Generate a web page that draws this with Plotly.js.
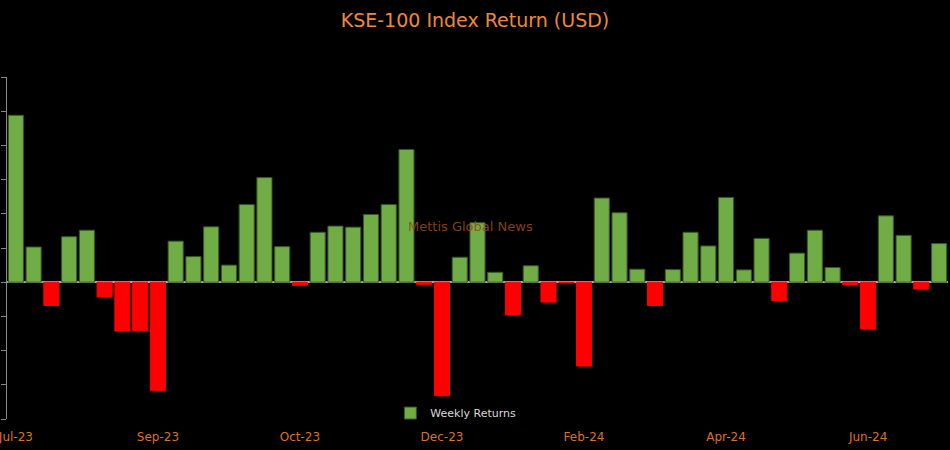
<!DOCTYPE html>
<html>
<head>
<meta charset="utf-8">
<script src="https://cdn.plot.ly/plotly-3.0.1.min.js"></script>
<style>html,body{margin:0;padding:0;background:#000;}#chart{width:950px;height:450px;}</style>
</head>
<body>
<div id="chart"></div>
<script>
// Week-ending dates (weekly, Jul-2023 to Jul-2024)
const weekDates = [
  "2023-07-07","2023-07-14","2023-07-21","2023-07-28","2023-08-04","2023-08-11","2023-08-18","2023-08-25",
  "2023-09-01","2023-09-08","2023-09-15","2023-09-22","2023-09-29","2023-10-06","2023-10-13","2023-10-20",
  "2023-10-27","2023-11-03","2023-11-10","2023-11-17","2023-11-24","2023-12-01","2023-12-08","2023-12-15",
  "2023-12-22","2023-12-29","2024-01-05","2024-01-12","2024-01-19","2024-01-26","2024-02-02","2024-02-09",
  "2024-02-16","2024-02-23","2024-03-01","2024-03-08","2024-03-15","2024-03-22","2024-03-29","2024-04-05",
  "2024-04-12","2024-04-19","2024-04-26","2024-05-03","2024-05-10","2024-05-17","2024-05-24","2024-05-31",
  "2024-06-07","2024-06-14","2024-06-21","2024-06-28","2024-07-05"
];
// Weekly returns (%)
const weeklyReturns = [
  4.88, 1.03, -0.68, 1.33, 1.52, -0.42, -1.43, -1.41,
  -3.16, 1.20, 0.75, 1.62, 0.50, 2.27, 3.06, 1.04,
  -0.09, 1.46, 1.64, 1.61, 1.98, 2.27, 3.88, -0.06,
  -3.32, 0.73, 1.74, 0.29, -0.95, 0.48, -0.58, -0.02,
  -2.45, 2.46, 2.03, 0.38, -0.68, 0.37, 1.46, 1.06,
  2.48, 0.36, 1.28, -0.54, 0.85, 1.52, 0.43, -0.08,
  -1.37, 1.94, 1.37, -0.20, 1.13
];
const tickDates = ["2023-07-07","2023-09-01","2023-10-27","2023-12-22","2024-02-16","2024-04-12","2024-06-07"];
const tickLabels = ["Jul-23","Sep-23","Oct-23","Dec-23","Feb-24","Apr-24","Jun-24"];

const barColors = weeklyReturns.map(v => v >= 0 ? "#70AD47" : "#FF0000");
const lineColors = weeklyReturns.map(v => v >= 0 ? "#375623" : "#FF0000");

const trace = {
  type: "bar",
  x: weekDates,
  y: weeklyReturns,
  name: "Weekly Returns",
  marker: { color: barColors, line: { color: lineColors, width: 1 } },
  showlegend: true
};

const layout = {
  width: 950, height: 450,
  paper_bgcolor: "#000", plot_bgcolor: "#000",
  margin: { l: 7, r: 2, t: 77, b: 31 },
  font: { family: "DejaVu Sans, Verdana, sans-serif" },
  title: { text: "KSE-100 Index Return (USD)", x: 0.5, xanchor: "center", y: 0.955, yanchor: "middle",
           font: { size: 19, color: "#F0883A", family: "DejaVu Sans, Verdana, sans-serif" } },
  bargap: 0.15,
  xaxis: {
    type: "category",
    tickmode: "array", tickvals: tickDates, ticktext: tickLabels,
    tickfont: { size: 12, color: "#D9722A" },
    showgrid: false, showline: false, zeroline: false,
    ticks: "outside", ticklen: 7, tickcolor: "rgba(0,0,0,0)",
    automargin: false,
    range: [-0.5, 52.5]
  },
  yaxis: {
    range: [-4, 6], dtick: 1, tick0: 0,
    showticklabels: false, showgrid: false,
    showline: true, linecolor: "#888", linewidth: 1,
    ticks: "outside", ticklen: 5, tickcolor: "#888",
    zeroline: true, zerolinecolor: "#A6A6A6", zerolinewidth: 1.5,
    automargin: false
  },
  legend: {
    orientation: "h", x: 0.477, xanchor: "center", y: -0.025, yanchor: "bottom",
    bgcolor: "rgba(0,0,0,0)", font: { size: 11, color: "#D9D9D9" },
    itemwidth: 20
  },
  annotations: [{
    text: "Mettis Global News", xref: "paper", yref: "paper",
    x: 0.493, y: 0.564, showarrow: false,
    font: { size: 13, color: "rgba(150,75,20,0.9)" }
  }]
};

Plotly.newPlot("chart", [trace], layout, { displayModeBar: false, staticPlot: true });
</script>
</body>
</html>
